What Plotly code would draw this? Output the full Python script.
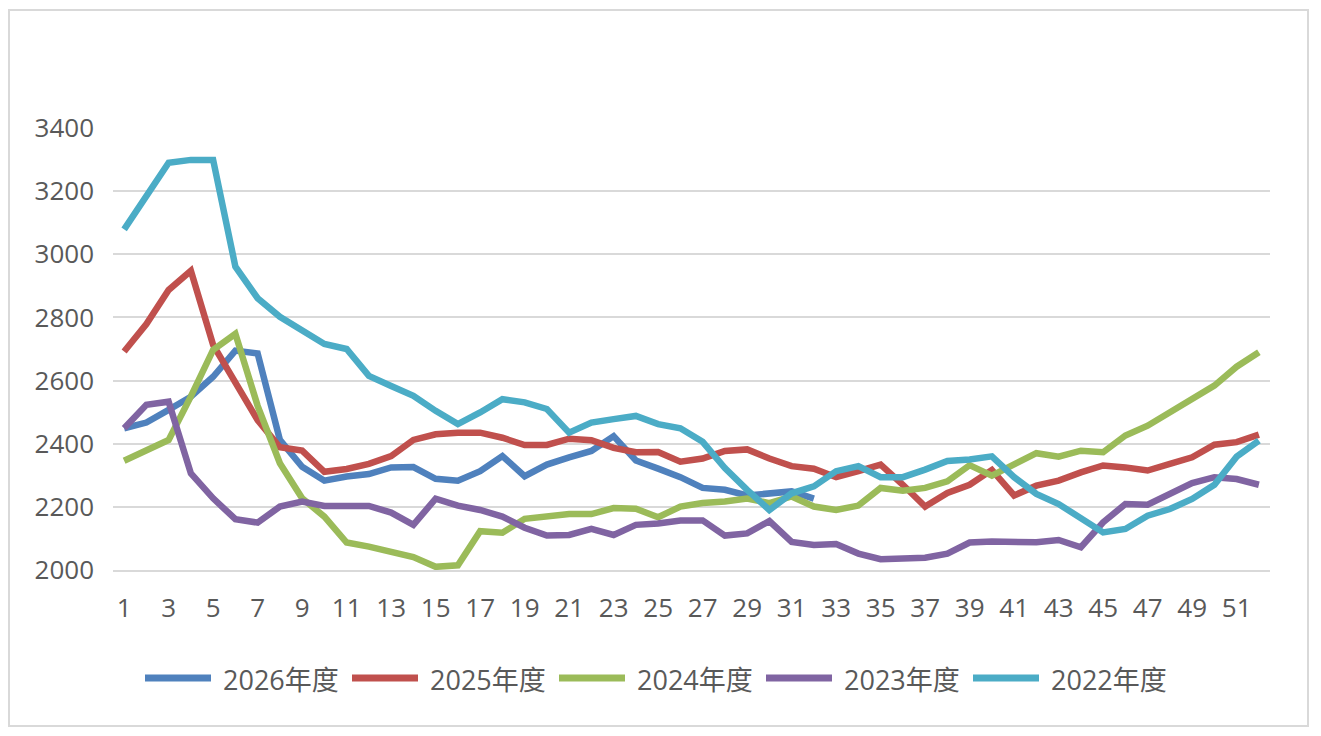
import plotly.graph_objects as go

# weekly values
weeks = list(range(1, 53))

y2026 = [2449, 2467, 2507, 2549, 2612, 2695, 2686, 2412, 2327, 2283, 2296, 2304, 2325, 2326,
         2289, 2283, 2313, 2361, 2297, 2334, 2357, 2377, 2424, 2347, 2321, 2294, 2260, 2254,
         2236, 2243, 2249, 2226]
y2025 = [2692, 2779, 2887, 2948, 2713, 2598, 2475, 2389, 2378, 2311, 2320, 2336, 2361, 2412,
         2430, 2435, 2435, 2419, 2396, 2396, 2416, 2411, 2387, 2373, 2374, 2343, 2353, 2377,
         2382, 2353, 2329, 2321, 2294, 2313, 2334, 2270, 2201, 2244, 2270, 2317, 2236, 2267,
         2283, 2309, 2331, 2325, 2315, 2336, 2357, 2397, 2405, 2429]
y2024 = [2346, 2378, 2412, 2550, 2697, 2748, 2520, 2338, 2227, 2169, 2087, 2074, 2059, 2041,
         2010, 2015, 2123, 2118, 2162, 2169, 2177, 2177, 2196, 2194, 2167, 2201, 2212, 2217,
         2226, 2212, 2233, 2201, 2190, 2204, 2260, 2251, 2260, 2281, 2332, 2299, 2336, 2370,
         2359, 2378, 2373, 2426, 2457, 2500, 2537, 2584, 2644, 2690]
y2023 = [2449, 2523, 2533, 2306, 2227, 2161, 2150, 2201, 2217, 2203, 2203, 2203, 2182, 2143,
         2226, 2204, 2190, 2169, 2134, 2109, 2111, 2130, 2111, 2143, 2147, 2157, 2157, 2109,
         2116, 2155, 2089, 2079, 2082, 2052, 2034, 2034, 2039, 2052, 2087, 2090, 2090, 2088,
         2095, 2072, 2151, 2209, 2207, 2241, 2275, 2294, 2288, 2270]
y2022 = [3079, 3182, 3290, 3299, 3299, 2961, 2861, 2802, 2760, 2716, 2700, 2615, 2583, 2552,
         2504, 2462, 2499, 2541, 2531, 2510, 2435, 2467, 2478, 2488, 2462, 2449, 2406, 2323,
         2254, 2190, 2243, 2265, 2313, 2329, 2294, 2294, 2318, 2345, 2350, 2360, 2294, 2241,
         2209, 2162, 2119, 2130, 2172, 2193, 2225, 2270, 2359, 2410]

names = ["2026年度", "2025年度", "2024年度", "2023年度", "2022年度"]
series = [y2026, y2025, y2024, y2023, y2022]
colors = ["#4F81BD", "#C0504D", "#9BBB59", "#8064A2", "#4BACC6"]

# the page body has an 8px margin, so the figure is drawn 8px in from the window edge
OFF = 8
W, H = 1321 - OFF, 736 - OFF
L, T = 113 - OFF, 128 - OFF
R, B = W - (1270 - OFF), H - (570 - OFF)
font = "Open Sans, Noto Sans CJK SC, sans-serif"
txt = "#595959"


def px(x):  # window pixel x -> paper
    return (x - OFF - L) / (W - L - R)


def py(y):  # window pixel y -> paper
    return (H - B - (y - OFF)) / (H - T - B)


fig = go.Figure()
for name, vals, col in zip(names, series, colors):
    fig.add_trace(go.Scatter(
        x=weeks[:len(vals)], y=vals, mode="lines", name=name,
        line=dict(color=col, width=6.5), showlegend=False,
    ))

# legend drawn by hand so the line samples are as long as in the original
shapes = []
annotations = []
for i, (name, col) in enumerate(zip(names, colors)):
    x0 = 145 + i * 207
    shapes.append(dict(type="line", xref="paper", yref="paper",
                       x0=px(x0), x1=px(x0 + 66), y0=py(678), y1=py(678),
                       line=dict(color=col, width=7)))
    annotations.append(dict(xref="paper", yref="paper", x=px(x0 + 76), y=py(679),
                            text=name, showarrow=False, xanchor="left", yanchor="middle",
                            font=dict(family=font, size=27, color=txt)))

# outer chart border
shapes.append(dict(type="rect", xref="paper", yref="paper",
                   x0=px(9), x1=px(1308), y0=py(726), y1=py(10),
                   line=dict(color="#D9D9D9", width=2)))

fig.update_layout(
    width=W, height=H,
    margin=dict(l=L, r=R, t=T, b=B),
    paper_bgcolor="white", plot_bgcolor="white",
    font=dict(family=font, size=26, color=txt),
    shapes=shapes, annotations=annotations,
    xaxis=dict(range=[0.5, 52.5], tickvals=list(range(1, 53, 2)), showgrid=False,
               showline=True, linecolor="#D9D9D9", linewidth=2, ticks="",
               ticklabelstandoff=14, zeroline=False),
    yaxis=dict(range=[2000, 3400], dtick=200, showgrid=True, gridcolor="#D9D9D9",
               gridwidth=2, ticks="", ticklabelstandoff=18, zeroline=False),
)

fig.write_html("out.html")
